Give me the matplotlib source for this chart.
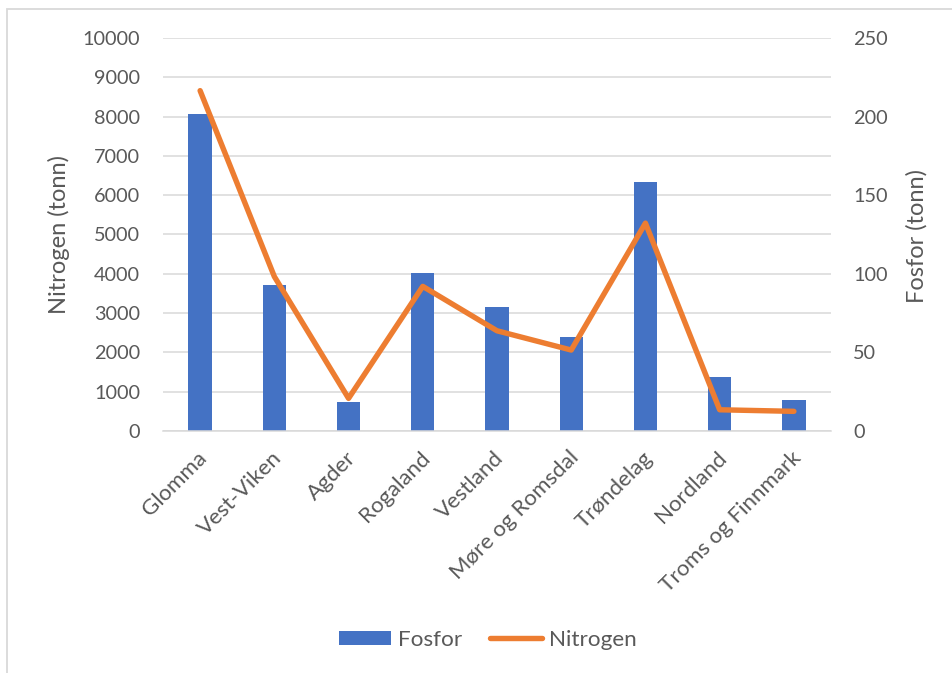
import matplotlib
matplotlib.use("Agg")
import matplotlib.pyplot as plt
from matplotlib.patches import Rectangle
from matplotlib.ticker import MultipleLocator
import matplotlib.transforms as mtransforms

plt.rcParams['font.family'] = ['Lato', 'DejaVu Sans']

regions = ["Glomma", "Vest-Viken", "Agder", "Rogaland", "Vestland",
           "Møre og Romsdal", "Trøndelag", "Nordland", "Troms og Finnmark"]
fosfor = [201.7, 92.7, 18.6, 100.7, 78.9, 59.6, 158.6, 34.6, 19.5]
nitrogen = [8660, 3930, 830, 3680, 2550, 2060, 5290, 540, 500]

nitrogen_ticks = list(range(0, 10001, 1000))
fosfor_ticks = list(range(0, 251, 50))

W, H = 952, 673
TEXT = '#595959'
GRID = '#d9d9d9'
BLUE = '#4472C4'
ORANGE = '#ED7D31'
FS = 14.3       # axis tick labels
FS_CAT = 16.0   # category labels
FS_TITLE = 17.0
FS_LEG = 16.2

fig = plt.figure(figsize=(W / 100, H / 100), dpi=100)
fig.patch.set_facecolor('white')

left, right, bottom, top = 163, 831, 431, 38
bar_ax = fig.add_axes([left / W, 1 - bottom / H, (right - left) / W, (bottom - top) / H])
line_ax = bar_ax.twinx()

x = list(range(len(regions)))

# Fosfor bars and the gridlines on the right-hand scale
bar_ax.set_axisbelow(True)
bar_ax.bar(x, fosfor, width=0.315, color=BLUE, zorder=2, label='Fosfor')
bar_ax.set_ylim(0, 250)
bar_ax.yaxis.set_minor_locator(MultipleLocator(25))
bar_ax.grid(True, which='both', axis='y', color=GRID, lw=1.1)
bar_ax.yaxis.tick_right()
bar_ax.set_yticks(fosfor_ticks)
bar_ax.set_yticklabels([str(v) for v in fosfor_ticks])
bar_ax.tick_params(axis='y', which='both', length=0, pad=16, labelsize=FS,
                   labelcolor=TEXT, labelright=True, labelleft=False)

# Nitrogen line on the left-hand scale
line_ax.plot(x, nitrogen, color=ORANGE, lw=3.9, solid_capstyle='round',
             solid_joinstyle='round', label='Nitrogen', zorder=3)
line_ax.set_ylim(0, 10000)
line_ax.yaxis.tick_left()
line_ax.set_yticks(nitrogen_ticks)
line_ax.set_yticklabels([str(v) for v in nitrogen_ticks])
line_ax.tick_params(axis='y', length=0, pad=16.5, labelsize=FS, labelcolor=TEXT,
                    labelleft=True, labelright=False)

for a in (bar_ax, line_ax):
    a.set_xlim(-0.5, len(regions) - 0.5)
    for s in a.spines.values():
        s.set_visible(False)

bar_ax.spines['bottom'].set_visible(True)
bar_ax.spines['bottom'].set_color(GRID)
bar_ax.spines['bottom'].set_linewidth(1.1)

bar_ax.set_xticks(x)
bar_ax.set_xticklabels(regions, rotation=45, ha='right', va='center',
                       rotation_mode='anchor', fontsize=FS_CAT, color=TEXT)
bar_ax.tick_params(axis='x', length=0, pad=17)
offset = mtransforms.ScaledTranslation(4 / 100, 0, fig.dpi_scale_trans)
for lbl in bar_ax.get_xticklabels():
    lbl.set_transform(lbl.get_transform() + offset)

# Axis titles
fig.text(59 / W, 1 - 235 / H, 'Nitrogen (tonn)', rotation=90, ha='center',
         va='center', fontsize=FS_TITLE, color=TEXT)
fig.text(917 / W, 1 - 236 / H, 'Fosfor (tonn)', rotation=90, ha='center',
         va='center', fontsize=FS_TITLE, color=TEXT)

# Legend
h1, l1 = bar_ax.get_legend_handles_labels()
h2, l2 = line_ax.get_legend_handles_labels()
fig.legend(h1 + h2, l1 + l2, loc='center', bbox_to_anchor=(488 / W, 1 - 640 / H),
           ncol=2, frameon=False, fontsize=FS_LEG, labelcolor=TEXT,
           handlelength=2.3, handleheight=0.6, handletextpad=0.3,
           columnspacing=1.25)

# Chart area border
fig.patches.append(Rectangle((6.5 / W, -0.2), 2, 1.2 - 9 / H,
                             transform=fig.transFigure, fill=False,
                             edgecolor=GRID, lw=1.3))

fig.savefig('out.png', dpi=100, facecolor='white')
